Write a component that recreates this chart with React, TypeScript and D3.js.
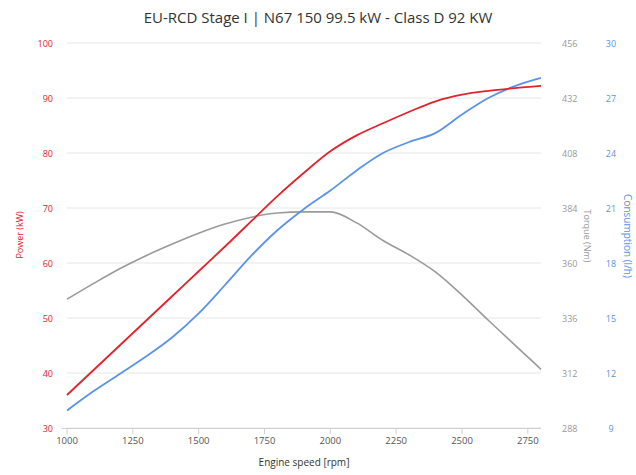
import React from "react";
import * as d3 from "d3";

const rpm = [1000, 1100, 1200, 1300, 1400, 1500, 1600, 1700, 1800, 1900, 2000, 2100, 2200, 2300, 2400, 2500, 2600, 2700, 2800];
const power = [36, 40.5, 45, 49.5, 54, 58.5, 63, 67.6, 72.2, 76.4, 80.3, 83.2, 85.4, 87.5, 89.4, 90.6, 91.3, 91.8, 92.2];
const torque = [344.2, 351, 357.5, 363.2, 368.3, 373, 377, 380, 381.8, 382.3, 382.3, 377.5, 369.8, 363.5, 356, 346, 335, 324.3, 313.6];
const consumption = [9.95, 11.0, 11.95, 12.9, 13.95, 15.25, 16.8, 18.4, 19.8, 20.95, 21.95, 23.05, 24.0, 24.6, 25.1, 26.1, 27.0, 27.65, 28.1];

const xTicks = [1000, 1250, 1500, 1750, 2000, 2250, 2500, 2750];
const powerTicks = [30, 40, 50, 60, 70, 80, 90, 100];
const torqueTicks = [288, 312, 336, 360, 384, 408, 432, 456];
const consTicks = [9, 12, 15, 18, 21, 24, 27, 30];

const title = "EU-RCD Stage I | N67 150 99.5 kW - Class D 92 KW";
const xTitle = "Engine speed [rpm]";
const powerTitle = "Power (kW)";
const torqueTitle = "Torque (Nm)";
const consTitle = "Consumption (l/h)";

const W = 636, H = 475;
const L = 67, R = 541, T = 43, B = 428;
const RED = "#e3232c", BLUE = "#5b93e8", GREY = "#9a9a9a";
const FONT = "'Open Sans', 'DejaVu Sans', sans-serif";

export default function App() {
  const x = d3.scaleLinear().domain([1000, 2800]).range([L, R]);
  const yP = d3.scaleLinear().domain([30, 100]).range([B, T]);
  const yT = d3.scaleLinear().domain([288, 456]).range([B, T]);
  const yC = d3.scaleLinear().domain([9, 30]).range([B, T]);

  const mk = (vals: number[], y: d3.ScaleLinear<number, number>) =>
    d3.line<number>().x((_, i) => x(rpm[i])).y((v) => y(v)).curve(d3.curveMonotoneX)(vals) || "";

  return (
    <svg width={W} height={H} style={{ position: "absolute", left: 0, top: 0, background: "#fff" }} fontFamily={FONT}>
      <text x={318} y={23} textAnchor="middle" fontSize={15} fill="#333">{title}</text>
      {powerTicks.map((t) => (
        <line key={"g" + t} x1={L} x2={R} y1={yP(t)} y2={yP(t)} stroke="#e6e6e6" strokeWidth={1} />
      ))}
      <line x1={L - 5} x2={R} y1={B + 0.5} y2={B + 0.5} stroke="#d0d0d0" />
      {xTicks.map((t) => (
        <g key={"x" + t}>
          <line x1={x(t)} x2={x(t)} y1={B} y2={B + 6} stroke="#d0d0d0" />
          <text x={x(t)} y={B + 16} textAnchor="middle" fontSize={9.5} fill="#555">{t}</text>
        </g>
      ))}
      <text x={304} y={B + 38} textAnchor="middle" fontSize={10} fill="#333">{xTitle}</text>
      {powerTicks.map((t) => (
        <text key={"p" + t} x={53} y={yP(t) + 3.5} textAnchor="end" fontSize={9} fill={RED}>{t}</text>
      ))}
      {torqueTicks.map((t) => (
        <text key={"t" + t} x={562} y={yT(t) + 3.5} textAnchor="start" fontSize={9} fill="#999">{t}</text>
      ))}
      {consTicks.map((t) => (
        <text key={"c" + t} x={611} y={yC(t) + 3.5} textAnchor="middle" fontSize={9} fill={BLUE}>{t}</text>
      ))}
      <text transform={`translate(23,235) rotate(-90)`} textAnchor="middle" fontSize={9} fill={RED}>{powerTitle}</text>
      <text transform={`translate(584,236) rotate(90)`} textAnchor="middle" fontSize={9} fill="#999">{torqueTitle}</text>
      <text transform={`translate(624,236) rotate(90)`} textAnchor="middle" fontSize={10} fill={BLUE}>{consTitle}</text>
      <path d={mk(torque, yT)} fill="none" stroke={GREY} strokeWidth={1.6} />
      <path d={mk(consumption, yC)} fill="none" stroke={BLUE} strokeWidth={1.8} />
      <path d={mk(power, yP)} fill="none" stroke={RED} strokeWidth={1.8} />
    </svg>
  );
}
